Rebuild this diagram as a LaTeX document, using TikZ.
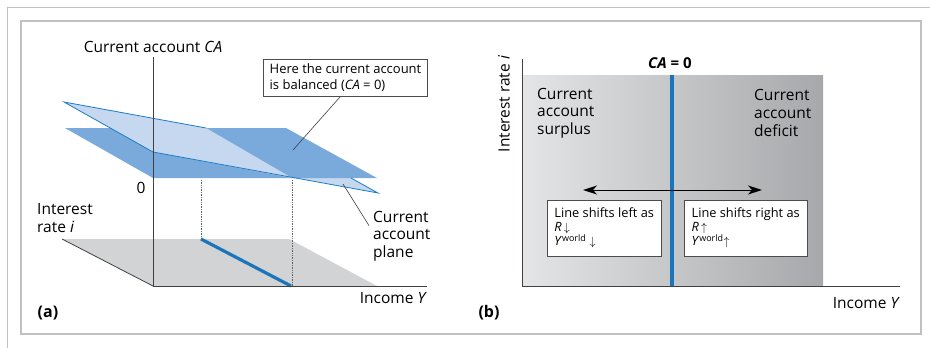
\documentclass[tikz,border=0pt]{standalone}
\usepackage{fontspec}
\setmainfont{Open Sans}
\usepackage{xcolor}
\usepackage{tikz}
\usetikzlibrary{positioning,calc,arrows.meta}

\definecolor{planedark}{RGB}{122,170,219}
\definecolor{planelight}{RGB}{198,216,239}
\definecolor{planeedge}{RGB}{28,124,199}
\definecolor{caline}{RGB}{27,117,188}
\definecolor{floorgray}{RGB}{210,211,213}
\definecolor{framegray}{RGB}{192,193,195}
\definecolor{shadeleft}{RGB}{228,229,230}
\definecolor{shaderight}{RGB}{166,168,171}

\begin{document}
\begin{tikzpicture}[x=1pt,y=-1pt,
    lbl/.style={font=\fontsize{15.5}{17.7}\selectfont, align=left, inner sep=0pt},
    tag/.style={font=\fontsize{16}{17}\bfseries, inner sep=0pt},
    notebox/.style={draw=black!70, fill=white, font=\fontsize{13}{15.5}\selectfont, align=left, inner xsep=6pt, inner ysep=5pt},
    shiftbox/.style={draw=black!70, fill=white, font=\fontsize{12.8}{14}\selectfont, align=left, inner sep=4pt, anchor=north west, minimum height=56pt},
    axisline/.style={black!75, line width=0.8pt},
    leader/.style={black!75, line width=0.6pt}]

    \useasboundingbox (0,0) rectangle (930,348);
    % frames
    \draw[framegray, line width=1pt] (7,348) -- (7,7) -- (930,7);
    \draw[framegray, line width=2pt] (21,21) rectangle (921,334);

    % ---- panel (a) ----
    \coordinate (oa) at (153,286);
    \coordinate (catop) at (153,57);
    \coordinate (yenda) at (427,286);
    \coordinate (ienda) at (62,239);

    \fill[floorgray] (ienda) -- (289,239) -- (377,286) -- (oa) -- cycle;
    \fill[planelight] (64,102) -- (289,143) -- (378,193) -- (153,152) -- cycle;
    \fill[planedark] (65,128) -- (286,128) -- (377,178) -- (153,178) -- cycle;
    \fill[planelight] (64,102) -- (206,128) -- (292,178) -- (153,152) -- cycle;
    \draw[planeedge, line width=0.8pt] (206,128) -- (64,102) -- (153,152) -- (378,193) -- (351,178);

    \draw[black!60, densely dotted, line width=0.7pt] (201,180) -- (201,239);
    \draw[black!60, densely dotted, line width=0.7pt] (292,180) -- (292,286);
    \draw[caline, line width=3.2pt] (201,239) -- (291,286);

    \draw[axisline] (catop) -- (oa) -- (yenda);
    \draw[axisline] (ienda) -- (oa);

    \node[lbl, above=4pt of catop] (calbl) {Current account \textit{CA}};
    \node[lbl] (zero) at (141,188) {0};
    \node[lbl, anchor=west] (ilbla) at (37,218) {Interest\\rate \textit{i}};
    \node[lbl, anchor=north east] (ylbla) at (427,292) {Income \textit{Y}};
    \node[tag] (tagA) at (48,313) {(a)};

    \node[notebox] (balbox) at (345.5,77.5) {Here the current account\\is balanced (\textit{CA} = 0)};
    \coordinate (balpt) at (293,150);
    \draw[leader] ([xshift=-5pt]balbox.south) -- (balpt);

    \node[lbl, anchor=west] (planelbl) at (373,236) {Current\\account\\plane};
    \coordinate (planept) at (343,184);
    \draw[leader] ([shift={(-4,15)}]planelbl.north west) -- (planept);

    % ---- panel (b) ----
    \coordinate (ob) at (522,286);
    \coordinate (itopb) at (522,59);
    \coordinate (yendb) at (900,286);

    \shade[left color=shadeleft, right color=shaderight] (522,75) rectangle (823,286);
    \draw[caline, line width=3.2pt] (672,75) -- (672,286);
    \draw[axisline] (itopb) -- (ob) -- (yendb);

    \node[lbl, font=\fontsize{15}{16}\bfseries] (calbl0) at (670,63) {\textit{CA} = 0};
    \node[lbl, rotate=90] (ilblb) at (504,104) {Interest rate \textit{i}};
    \node[lbl, anchor=north east] (ylblb) at (900,297) {Income \textit{Y}};
    \node[tag] (tagB) at (489,313) {(b)};

    \node[lbl, anchor=west] (surplus) at (537,113) {Current\\account\\surplus};
    \node[lbl, anchor=west] (deficit) at (754,113) {Current\\account\\deficit};

    \coordinate (arrl) at (583,190);
    \coordinate (arrr) at (762,190);
    \draw[black, line width=1pt, {Stealth[length=14pt,width=9pt,inset=4pt]}-{Stealth[length=14pt,width=9pt,inset=4pt]}] (arrl) -- (arrr);

    \node[shiftbox, minimum width=114pt] (leftbox) at (547,200) {Line shifts left as\\\textit{R}\,$\downarrow$\\\textit{Y}\textsuperscript{world} $\downarrow$};
    \node[shiftbox, minimum width=123pt] (rightbox) at (684,200) {Line shifts right as\\\textit{R}\,$\uparrow$\\\textit{Y}\textsuperscript{world}$\uparrow$};
\end{tikzpicture}
\end{document}
